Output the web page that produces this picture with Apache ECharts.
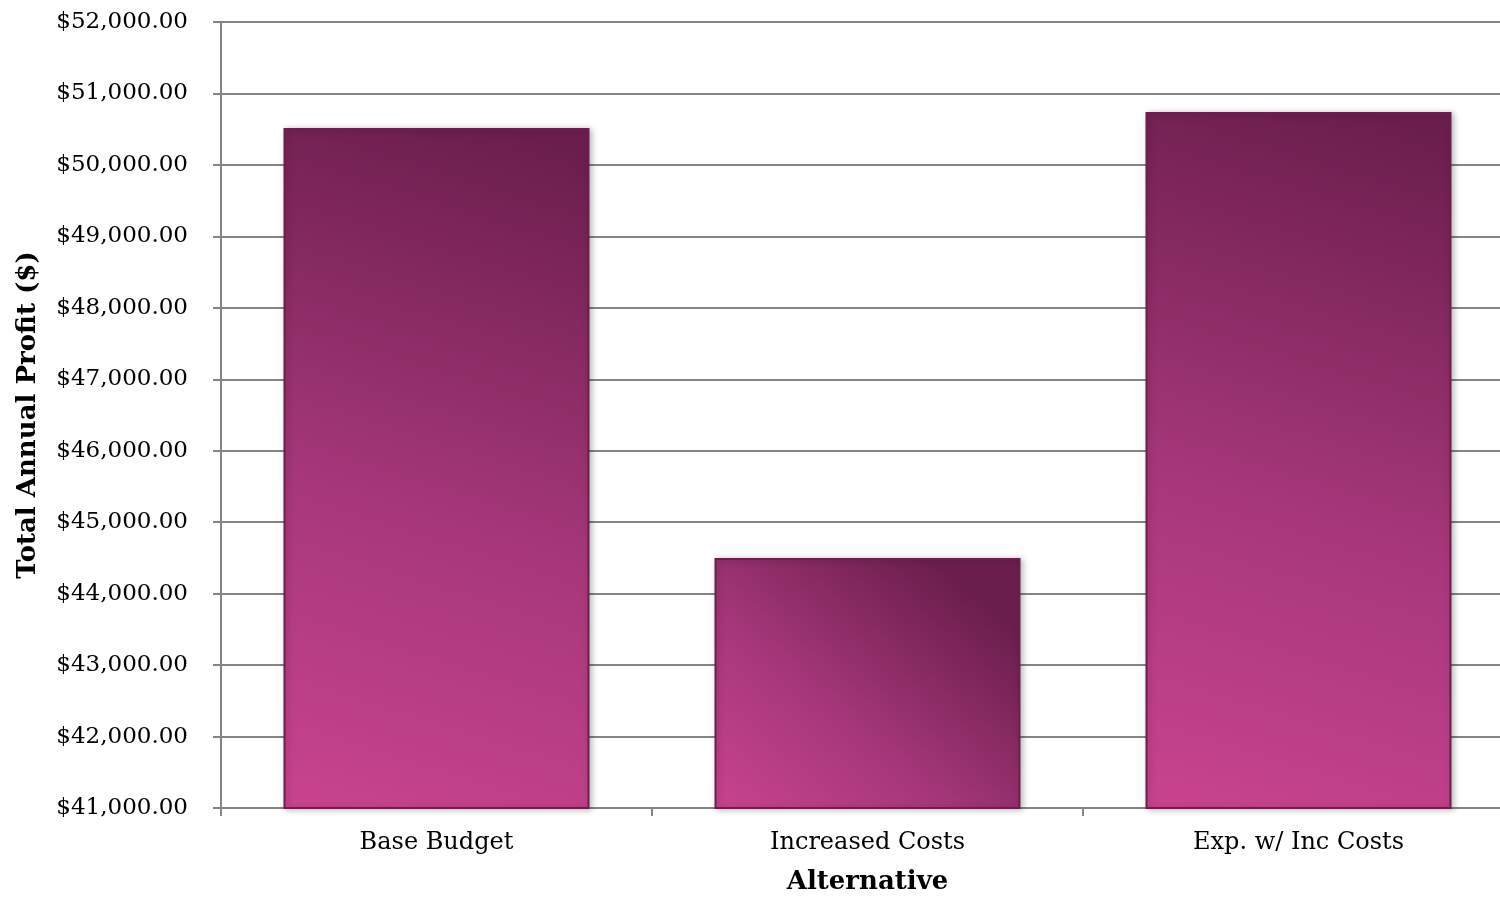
<!DOCTYPE html>
<html>
<head>
<meta charset="utf-8">
<title>Total Annual Profit</title>
<script src="https://cdn.jsdelivr.net/npm/echarts@6/dist/echarts.min.js"></script>
<style>
    html, body { margin: 0; padding: 0; background: #fff; width: 1500px; height: 900px; overflow: hidden; position: relative; }
    /* the plot runs a little past the right edge of the picture */
    #chart { position: absolute; left: 0; top: 0; width: 1514px; height: 900px; }
</style>
</head>
<body>
<div id="chart"></div>
<script>
// 数据
var categories = ['Base Budget', 'Increased Costs', 'Exp. w/ Inc Costs'];
var profit = [50515, 44500, 50740];
var yMin = 41000, yMax = 52000, yStep = 1000;

function money(v) {
    return '$' + v.toLocaleString('en-US', {minimumFractionDigits: 2, maximumFractionDigits: 2});
}

function drawChart(id) {
    var myChart = echarts.init(document.getElementById(id));
    var serif = 'DejaVu Serif';
    var gray = '#848484';

    var option = {
        animation: false,
        backgroundColor: '#fff',
        grid: {
            left: 221,
            right: 0,
            top: 22,
            bottom: 89
        },
        xAxis: {
            type: 'category',
            data: categories,
            name: 'Alternative',
            nameLocation: 'middle',
            nameGap: 61,
            nameTextStyle: { fontFamily: serif, fontWeight: 'bold', fontSize: 26, color: '#000' },
            axisLine: { lineStyle: { color: gray, width: 2 } },
            axisTick: { show: true, length: 8, lineStyle: { color: gray, width: 2 } },
            axisLabel: { fontFamily: serif, fontSize: 24, color: '#000', margin: 23 }
        },
        yAxis: {
            type: 'value',
            min: yMin,
            max: yMax,
            interval: yStep,
            name: 'Total Annual Profit ($)',
            nameLocation: 'middle',
            nameGap: 180,
            nameTextStyle: { fontFamily: serif, fontWeight: 'bold', fontSize: 26, color: '#000' },
            axisLine: { show: true, lineStyle: { color: gray, width: 2 } },
            axisTick: { show: true, length: 8, lineStyle: { color: gray, width: 2 } },
            splitLine: { lineStyle: { color: gray, width: 2 } },
            axisLabel: {
                fontFamily: serif, fontSize: 23, color: '#000', margin: 33,
                formatter: function (v) { return money(v); }
            }
        },
        series: [{
            type: 'bar',
            data: profit,
            barWidth: 306,
            itemStyle: {
                color: new echarts.graphic.LinearGradient(0, 1, 0.7, 0, [
                    { offset: 0, color: '#c9438f' },
                    { offset: 0.45, color: '#a6377a' },
                    { offset: 1, color: '#6b1e4e' }
                ]),
                borderColor: '#6a1f4c',
                borderWidth: 2,
                shadowColor: 'rgba(0,0,0,0.25)',
                shadowBlur: 6,
                shadowOffsetX: 2,
                shadowOffsetY: 1
            }
        }]
    };

    myChart.setOption(option);
    window.addEventListener('resize', function () { myChart.resize(); });
}

drawChart('chart');
</script>
</body>
</html>
